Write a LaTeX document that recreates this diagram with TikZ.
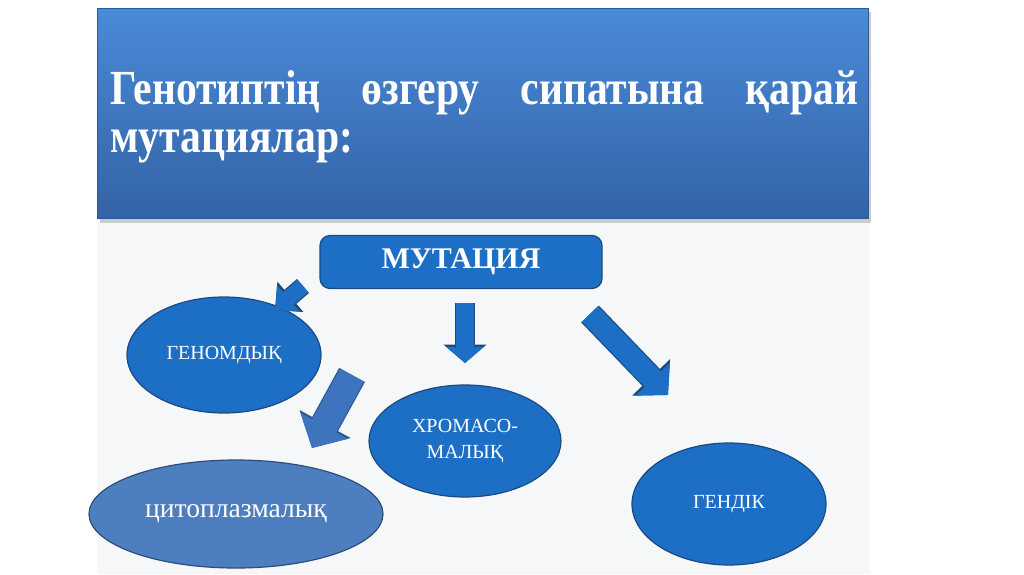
\documentclass[tikz,border=0pt]{standalone}
\usepackage{fontspec}
\setmainfont{Liberation Serif}
\newfontfamily\headfont[FakeStretch=0.85]{Liberation Serif}
\usetikzlibrary{arrows.meta, positioning, shapes.geometric}
\definecolor{headtop}{HTML}{4A8AD8}
\definecolor{headbot}{HTML}{3463A6}
\definecolor{headedge}{HTML}{2E5A94}
\definecolor{mutblue}{HTML}{1D6FC6}
\definecolor{mutedge}{HTML}{1B4A80}
\definecolor{cytofill}{HTML}{4D7FC0}
\definecolor{cytoedge}{HTML}{2E4E78}
\definecolor{slantblue}{HTML}{3E73BD}
\definecolor{slantedge}{HTML}{2E5A94}
\definecolor{paper}{HTML}{F6F7F9}

\tikzset{
  kind/.style={ellipse, draw=mutedge, fill=mutblue, line width=0.6pt, text=white,
    inner sep=0pt, align=center, font=\fontsize{10}{13}\selectfont},
  heading/.style={anchor=base west, inner sep=0pt, text=white,
    font=\headfont\fontsize{24.5}{28}\selectfont\bfseries},
  bigarrow/.style n args={5}{line width=#1pt, draw=#4, -{Triangle[width=0pt #2, length=0pt #3]},
    preaction={draw=#5, line width=#1pt+1.2pt, -{Triangle[width=0pt #2, length=0pt #3]}}}
}

\begin{document}
\begin{tikzpicture}[x=0.5pt, y=-0.5pt]
  \useasboundingbox (0,0) rectangle (1024,574);
  \fill[paper] (97,218) rectangle (870,574);
  % heading panel
  \fill[black!20] (100,12) rectangle (871,223);
  \shadedraw[top color=headtop, bottom color=headbot, draw=headedge] (97,8) rectangle (868,218);
  \node[heading] (line1) at (110,104)
    {\hbox to 374pt{Генотиптің\hfill өзгеру\hfill сипатына\hfill қарай}};
  \node[heading] (line2) at (110,152) {мутациялар:};

  % scheme
  \node[rectangle, rounded corners=5pt, draw=mutedge, fill=mutblue, line width=0.6pt,
    minimum width=141pt, minimum height=26.5pt, text=white,
    font=\fontsize{15}{18}\selectfont\bfseries] (mutation) at (461,262) {МУТАЦИЯ};
  \node[kind, minimum width=97pt, minimum height=58pt] (genomic) at (224,355) {ГЕНОМДЫҚ};
  \node[kind, minimum width=96pt, minimum height=56pt] (chromo) at (465,441) {ХРОМАСО-\\МАЛЫҚ};
  \node[kind, minimum width=97pt, minimum height=61pt] (gene) at (729,504) {ГЕНДІК};
  \node[kind, fill=cytofill, draw=cytoedge, minimum width=147pt, minimum height=54pt,
    font=\fontsize{13.8}{16}\selectfont] (cyto) at (236,514) {цитоплазмалық};

  \coordinate (g1) at (303,286);
  \coordinate (g2) at (275,310);
  \coordinate (c1) at (465,303);
  \coordinate (c2) at (465,363);
  \coordinate (d1) at (590,314);
  \coordinate (d2) at (668,395);
  \coordinate (p1) at (352,375);
  \coordinate (p2) at (312,448);
  \draw[bigarrow={8}{2.1}{1.1}{mutblue}{mutedge}] (g1) -- (g2);
  \draw[bigarrow={9}{2.05}{0.9}{mutblue}{mutedge}] (c1) -- (c2);
  \draw[bigarrow={11}{2.1}{1.0}{mutblue}{mutedge}] (d1) -- (d2);
  \draw[bigarrow={13.5}{1.93}{0.93}{slantblue}{slantedge}] (p1) -- (p2);
\end{tikzpicture}
\end{document}
